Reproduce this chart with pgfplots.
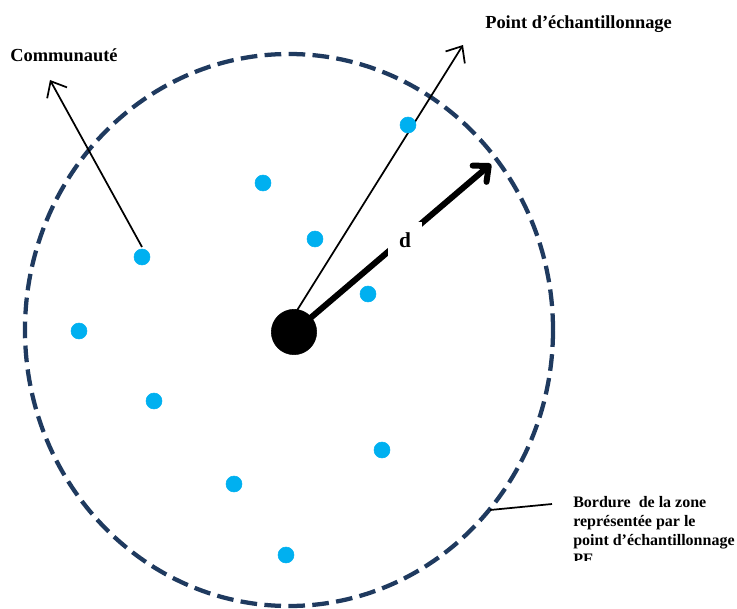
\documentclass[border=0pt]{standalone}
\usepackage{pgfplots}
\pgfplotsset{compat=1.18}
\usetikzlibrary{arrows.meta}
\usepackage{fontspec}
\setmainfont{Liberation Serif}
\definecolor{bordnavy}{RGB}{31,58,95}
\definecolor{dotblue}{RGB}{0,176,240}

\begin{document}
\begin{tikzpicture}
\begin{axis}[
    hide axis,
    scale only axis,
    width=552.75pt, height=456pt,
    xmin=0, xmax=737, ymin=0, ymax=608,
    clip=false,
]
% zone border
\draw[bordnavy, line width=3.2pt, dash pattern=on 12.5pt off 5.5pt]
    (axis cs:289,278) ellipse [x radius=198pt, y radius=207pt];

% thin arrows and leader line
\draw[line width=1.3pt, -{Straight Barb[length=10pt, width=17pt]}]
    (axis cs:142,361) -- (axis cs:50,528);
\draw[line width=1.3pt, -{Straight Barb[length=10pt, width=17pt]}]
    (axis cs:296,296) -- (axis cs:463,563);
\draw[line width=1.3pt] (axis cs:490,98) -- (axis cs:552,104);

% radius d
\draw[line width=4.5pt, -{Straight Barb[length=9pt, width=16pt, round]}]
    (axis cs:294,276) -- (axis cs:491,444);
\node[fill=white, minimum width=26pt, minimum height=27pt, inner sep=0pt,
      font=\fontsize{16}{18}\selectfont\bfseries]
    at (axis cs:405,368) {d};

% sampling point
\addplot[only marks, mark=*, mark size=17pt, black] coordinates {(294,276)};

% community members
\addplot[only marks, mark=*, mark size=6pt, color=dotblue, mark options={draw=dotblue}]
    coordinates {(408,483) (263,425) (315,369) (142,351) (368,314)
                 (79,277) (154,207) (382,158) (234,124) (286,53)};

% labels
\node[anchor=west, inner sep=0pt, font=\fontsize{13.8}{16}\selectfont\bfseries]
    at (axis cs:10,553) {Communauté};
\node[anchor=west, inner sep=0pt, font=\fontsize{13.8}{16}\selectfont\bfseries]
    at (axis cs:485,584) {Point d’échantillonnage};
\node[anchor=north west, inner sep=0pt, align=left,
      font=\fontsize{12}{14.25}\selectfont\bfseries]
    at (axis cs:573,112) {Bordure\ \ de la zone\\représentée par le\\point d’échantillonnage\\PE};
\fill[white] (axis cs:565,-5) rectangle (axis cs:745,47);
\end{axis}
\pgfresetboundingbox
\path[use as bounding box] (current axis.south west) rectangle (current axis.north east);
\end{tikzpicture}
\end{document}
